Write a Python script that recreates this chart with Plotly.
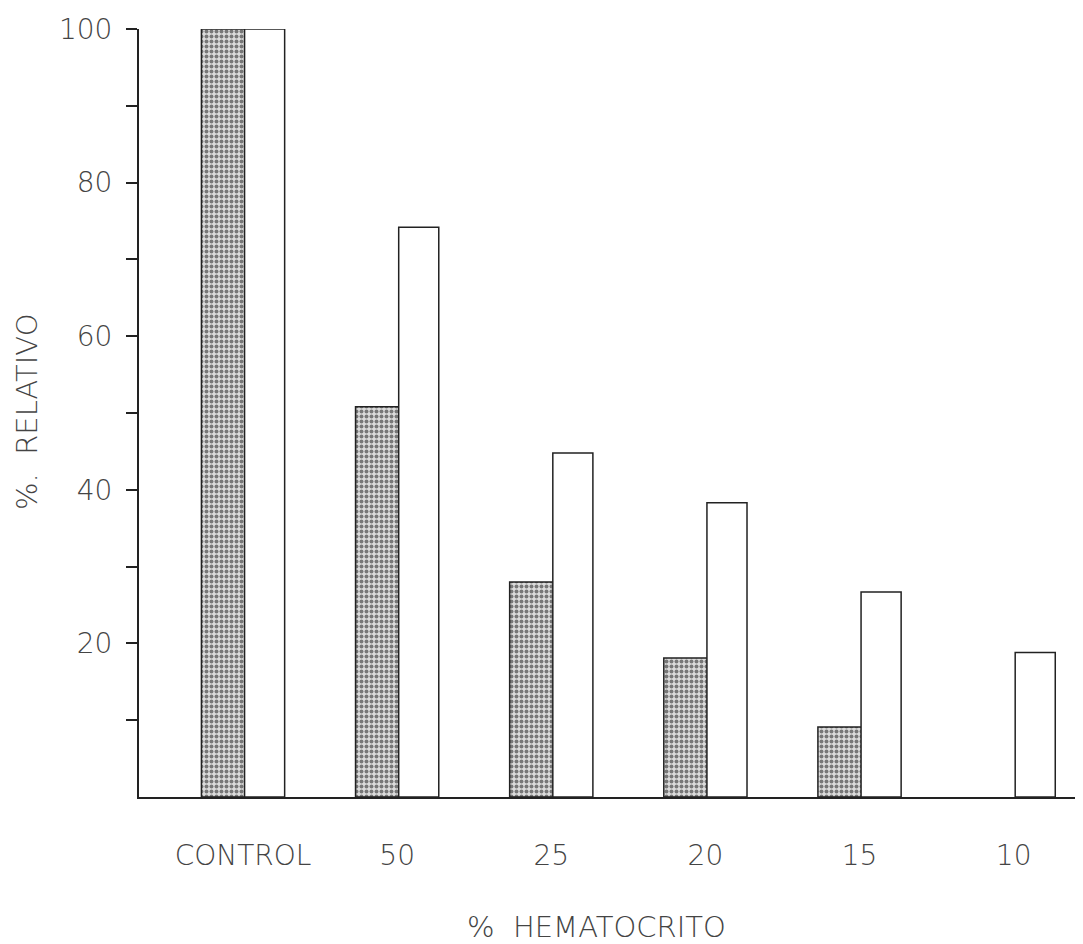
import plotly.graph_objects as go

categories = ["CONTROL", "50", "25", "20", "15", "10"]
dotted_values = [100, 50.8, 28.0, 18.1, 9.1, None]
white_values = [100, 74.2, 44.8, 38.3, 26.7, 18.8]
y_tick_vals = [20, 40, 60, 80, 100]
y_tick_text = ["20", "40", "60", "80", "100"]
y_minor_vals = [10, 30, 50, 70, 90]

x_idx = list(range(len(categories)))
font_family = "DejaVu Sans, Liberation Sans, sans-serif"
txt_color = "#444444"

# page has an 8px body margin; figure sized so plot area lands where the reference has it
W, H = 1075, 936
L, T = 131, 21
PW, PH = 944, 768

fig = go.Figure()
fig.add_trace(go.Bar(
    x=x_idx, y=dotted_values, width=0.29, offset=-0.27,
    marker=dict(color="white",
                line=dict(color="#222", width=1.5),
                pattern=dict(shape=".", fgcolor="#111", bgcolor="#dcdcdc",
                             size=5, solidity=0.5)),
    showlegend=False,
))
fig.add_trace(go.Bar(
    x=x_idx, y=white_values, width=0.26, offset=0.01,
    marker=dict(color="white", line=dict(color="#222", width=1.5)),
    showlegend=False,
))

fig.update_layout(
    width=W, height=H,
    margin=dict(l=L, r=W - L - PW, t=T, b=H - T - PH, autoexpand=False),
    paper_bgcolor="white", plot_bgcolor="white",
    font=dict(family=font_family, color=txt_color, size=26, weight=300),
    barmode="overlay",
    xaxis=dict(
        range=[-0.675, 5.45],
        tickvals=x_idx, ticktext=categories,
        showline=True, linecolor="#222", linewidth=2,
        ticks="outside", ticklen=32, tickcolor="rgba(0,0,0,0)",
        showgrid=False, zeroline=False,
        tickfont=dict(size=28, color=txt_color, weight=300),
    ),
    yaxis=dict(
        range=[0, 100],
        tickvals=y_tick_vals, ticktext=y_tick_text,
        showline=True, linecolor="#222", linewidth=2,
        ticks="outside", ticklen=11, tickwidth=1.5, tickcolor="#222",
        ticklabelstandoff=8,
        minor=dict(tickvals=y_minor_vals, ticks="outside", ticklen=11,
                   tickwidth=1.5, tickcolor="#222", showgrid=False),
        showgrid=False, zeroline=False,
        tickfont=dict(size=28, color=txt_color, weight=300),
    ),
    annotations=[
        dict(text="%  HEMATOCRITO", xref="paper", yref="paper",
             x=(596 - 139) / PW, y=-(927 - 797) / PH,
             xanchor="center", yanchor="middle", showarrow=False,
             font=dict(size=29, color=txt_color, weight=300)),
        dict(text="%.  RELATIVO", xref="paper", yref="paper",
             x=-(139 - 27) / PW, y=(797 - 412) / PH,
             xanchor="center", yanchor="middle", showarrow=False,
             textangle=-90, font=dict(size=29, color=txt_color, weight=300)),
    ],
)

fig.write_html("out.html")
